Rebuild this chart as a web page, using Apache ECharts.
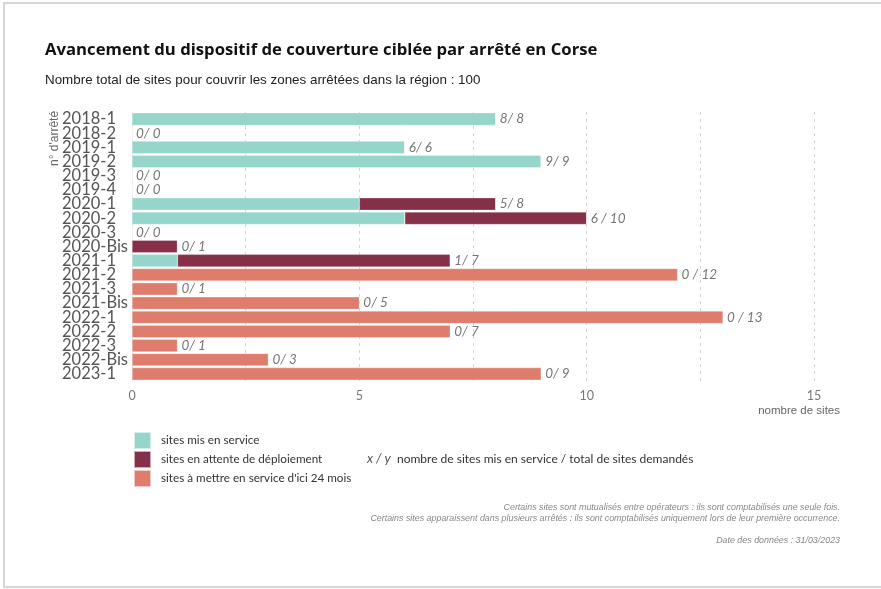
<!DOCTYPE html>
<html><head><meta charset="utf-8">
<script src="https://cdn.jsdelivr.net/npm/echarts@6/dist/echarts.min.js"></script>
<style>html,body{margin:0;padding:0;background:#fff}#c{width:881px;height:589px}</style>
</head><body><div id="c"></div>
<script>
const categories = ['2018-1','2018-2','2019-1','2019-2','2019-3','2019-4','2020-1','2020-2','2020-3','2020-Bis','2021-1','2021-2','2021-3','2021-Bis','2022-1','2022-2','2022-3','2022-Bis','2023-1'];
const enService = [8,0,6,9,0,0,5,6,0,0,1,0,0,0,0,0,0,0,0];
const enAttente = [0,0,0,0,0,0,3,4,0,1,6,0,0,0,0,0,0,0,0];
const a24mois   = [0,0,0,0,0,0,0,0,0,0,0,12,1,5,13,7,1,3,9];
const totals = categories.map((c,i)=>enService[i]+enAttente[i]+a24mois[i]);
const xTicks = [0,5,10,15];

const colors = ['#96d6ca','#852f48','#df7d6d'];
function lbl(i){ const t = totals[i]; return enService[i] + (t>=10 ? ' / ' : '/ ') + t; }

const chart = echarts.init(document.getElementById('c'));
chart.setOption({
  animation:false,
  grid:{left:132, top:112, width:682, height:269, containLabel:false},
  legend:{
    orient:'vertical', left:133, top:431, padding:0, itemWidth:17, itemHeight:17, itemGap:0,
    icon:'rect', selectedMode:false,
    textStyle:{fontFamily:'Lato', fontSize:11.7, color:'#333', padding:[0,0,0,5]},
    data:['sites mis en service','sites en attente de déploiement',"sites à mettre en service d'ici 24 mois"]
  },
  xAxis:{
    type:'value', min:0, max:15, interval:2.5,
    axisLine:{show:false}, axisTick:{show:false},
    splitLine:{show:true, lineStyle:{type:[3,4], color:'#d4d4d4', width:1}},
    axisLabel:{margin:8, fontFamily:'Lato', fontSize:12.5, color:'#777',
      formatter:v=> xTicks.includes(v) ? String(v) : ''}
  },
  yAxis:{
    type:'category', data:categories, inverse:true,
    axisLine:{show:true, lineStyle:{color:'#e4e4e4'}}, axisTick:{show:false},
    axisLabel:{align:'left', margin:70, fontFamily:'Lato', fontSize:16.5, color:'#555', interval:0}
  },
  series:[
    {name:'sites mis en service', type:'bar', stack:'t', data:enService, barCategoryGap:'11%',
      itemStyle:{color:colors[0], borderColor:'rgba(255,255,255,0.6)', borderWidth:0.5}},
    {name:'sites en attente de déploiement', type:'bar', stack:'t', data:enAttente,
      itemStyle:{color:colors[1], borderColor:'rgba(255,255,255,0.6)', borderWidth:0.5}},
    {name:"sites à mettre en service d'ici 24 mois", type:'bar', stack:'t', data:a24mois,
      itemStyle:{color:colors[2], borderColor:'rgba(255,255,255,0.6)', borderWidth:0.5}},
    {name:'lbl', type:'bar', stack:'t', data:categories.map(()=>0), silent:true,
      itemStyle:{color:'transparent'},
      label:{show:true, position:'right', distance:4, fontFamily:'Lato', fontStyle:'italic', fontSize:13.5, color:'#777',
        formatter:p=>lbl(p.dataIndex)}}
  ],
  graphic:[
    {type:'rect', shape:{x:4, y:3, width:900, height:584}, style:{fill:'none', stroke:'#d6d6d6', lineWidth:2}, silent:true},
    {type:'text', left:45, top:42, style:{text:'Avancement du dispositif de couverture ciblée par arrêté en Corse', font:'bold 16.7px "Open Sans"', fill:'#111'}},
    {type:'text', left:45, top:74, style:{text:'Nombre total de sites pour couvrir les zones arrêtées dans la région : 100', font:'13.4px "Liberation Sans"', fill:'#222'}},
    {type:'text', x:49, y:166, rotation:Math.PI/2, style:{text:"n° d'arrêté", font:'12px "Liberation Sans Narrow", "Liberation Sans"', fill:'#666', textAlign:'left', textVerticalAlign:'top'}},
    {type:'text', x:840, y:405, style:{text:'nombre de sites', font:'11.5px "Liberation Sans Narrow", "Liberation Sans"', fill:'#666', textAlign:'right'}},
    {type:'text', x:367, y:452, style:{text:'x / y', font:'italic 13px Lato', fill:'#555'}},
    {type:'text', x:397, y:453, style:{text:'nombre de sites mis en service / total de sites demandés', font:'12px Lato', fill:'#333'}},
    {type:'text', x:840, y:503, style:{text:'Certains sites sont mutualisés entre opérateurs : ils sont comptabilisés une seule fois.', font:'italic 8.9px "Liberation Sans"', fill:'#888', textAlign:'right'}},
    {type:'text', x:840, y:514, style:{text:'Certains sites apparaissent dans plusieurs arrêtés : ils sont comptabilisés uniquement lors de leur première occurrence.', font:'italic 8.9px "Liberation Sans"', fill:'#888', textAlign:'right'}},
    {type:'text', x:840, y:536, style:{text:'Date des données : 31/03/2023', font:'italic 8.9px "Liberation Sans"', fill:'#888', textAlign:'right'}}
  ]
});
</script></body></html>
